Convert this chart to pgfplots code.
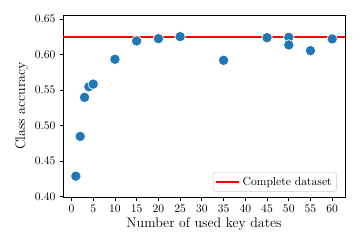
\documentclass[border=0pt]{standalone}
\usepackage{pgfplots}
\pgfplotsset{compat=1.18}
\definecolor{mplblue}{HTML}{1F77B4}
\begin{document}
\begin{tikzpicture}
\begin{axis}[
  scale only axis,
  width=243pt, height=157pt,
  xmin=-1.95, xmax=62.95,
  ymin=0.399, ymax=0.656,
  xtick={0,5,...,60},
  ytick={0.40,0.45,...,0.65},
  yticklabel style={/pgf/number format/.cd,fixed,fixed zerofill,precision=2},
  tick align=outside,
  xtick pos=bottom, ytick pos=left,
  major tick length=3pt,
  tick style={black, line width=0.7pt},
  axis line style={line width=0.7pt},
  ticklabel style={font=\normalsize},
  xlabel={Number of used key dates},
  ylabel={Class accuracy},
  label style={font=\large},
  xlabel style={yshift=2pt},
  ylabel style={yshift=-1pt},
  legend pos=south east,
  legend style={font=\normalsize, draw=black!20, rounded corners=2pt, fill=white, inner sep=2pt},
  legend cell align=left,
  legend image code/.code={\draw[#1] (0pt,0pt) -- (20pt,0pt);},
]
\addplot[red, line width=1.5pt, forget plot] coordinates {(-1.95,0.625) (62.95,0.625)};
\addplot[only marks, mark=*, mark size=4.5pt, mark options={fill=mplblue, draw=white, line width=0.6pt}, forget plot]
coordinates {
(1,0.4287) (2,0.4847) (3,0.5398) (4,0.5548) (5,0.5585)
(10,0.5935) (15,0.6194) (20,0.6226) (25,0.6254) (35,0.592)
(45,0.624) (50,0.6245) (50,0.6137) (55,0.6057) (60,0.6222)
};
\addlegendimage{red, line width=1.5pt}
\addlegendentry{Complete dataset}
\end{axis}
\pgfresetboundingbox
\path ([xshift=-54.3pt,yshift=-45.7pt]current axis.south west) rectangle ([xshift=12.9pt,yshift=12.9pt]current axis.north east);
\end{tikzpicture}
\end{document}
